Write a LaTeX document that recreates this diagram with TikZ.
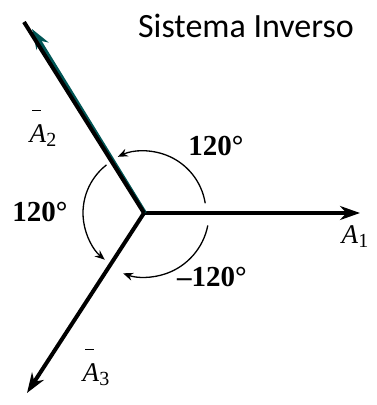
\documentclass[tikz,border=0pt]{standalone}
\usepackage{fontspec}
\setmainfont{Liberation Serif}
\newfontfamily\titlefont{Carlito}
\usetikzlibrary{arrows.meta}
\definecolor{tealedge}{RGB}{0,85,85}
\newcommand\phasorlab[2]{\makebox[0pt][l]{#1}\textit{A}\raisebox{-0.15em}{\fontsize{20}{22}\selectfont #2}}
\newcommand\topbar{\raisebox{1.15em}{\hspace{0.1em}\rule{0.3em}{0.05em}}}
\begin{document}
\begin{tikzpicture}[x=1pt,y=1pt,
 vec/.style={line width=4pt, -{Stealth[length=20pt,width=14pt]}},
 rot/.style={line width=1.3pt, -{Stealth[length=10pt,width=8pt]}},
 ang/.style={font=\fontsize{29}{31}\selectfont\bfseries, inner sep=0pt},
 lab/.style={font=\fontsize{27}{29}\selectfont, inner sep=0pt}]
\useasboundingbox (0,0) rectangle (376,405);
\coordinate (O) at (144,192);
\coordinate (P1) at (360,192);
\coordinate (P2) at (24,383);
\coordinate (P2t) at (31,376);
\coordinate (P3) at (27,12);
% vectors
\draw[vec] (O) -- (P1);
\draw[vec, tealedge] ([xshift=1pt]O) -- ([xshift=1pt]P2t);
\draw[line width=4pt] (O) -- (P2);
\draw[vec] (O) -- (P3);
% rotation arcs
\draw[rot] ([shift={(9:62)}]O) arc[start angle=9, end angle=115, radius=62];
\draw[rot] ([shift={(128:61)}]O) arc[start angle=128, end angle=230, radius=61];
\draw[rot] ([shift={(-11:65)}]O) arc[start angle=-11, end angle=-110, radius=64];
% labels
\node[ang] (a1) at (216,259) {120°};
\node[ang] (a2) at (40,193) {120°};
\node[ang] (a3) at (212,128) {–120°};
\node[lab] (l1) at (355,168) {\phasorlab{}{1}};
\node[lab] (l2) at (43,277) {\phasorlab{\topbar}{2}};
\node[lab] (l3) at (96,38) {\phasorlab{\topbar}{3}};
\node[inner sep=0pt] (title) at (246,379) {\titlefont\fontsize{34}{37}\selectfont Sistema Inverso};
\end{tikzpicture}
\end{document}
